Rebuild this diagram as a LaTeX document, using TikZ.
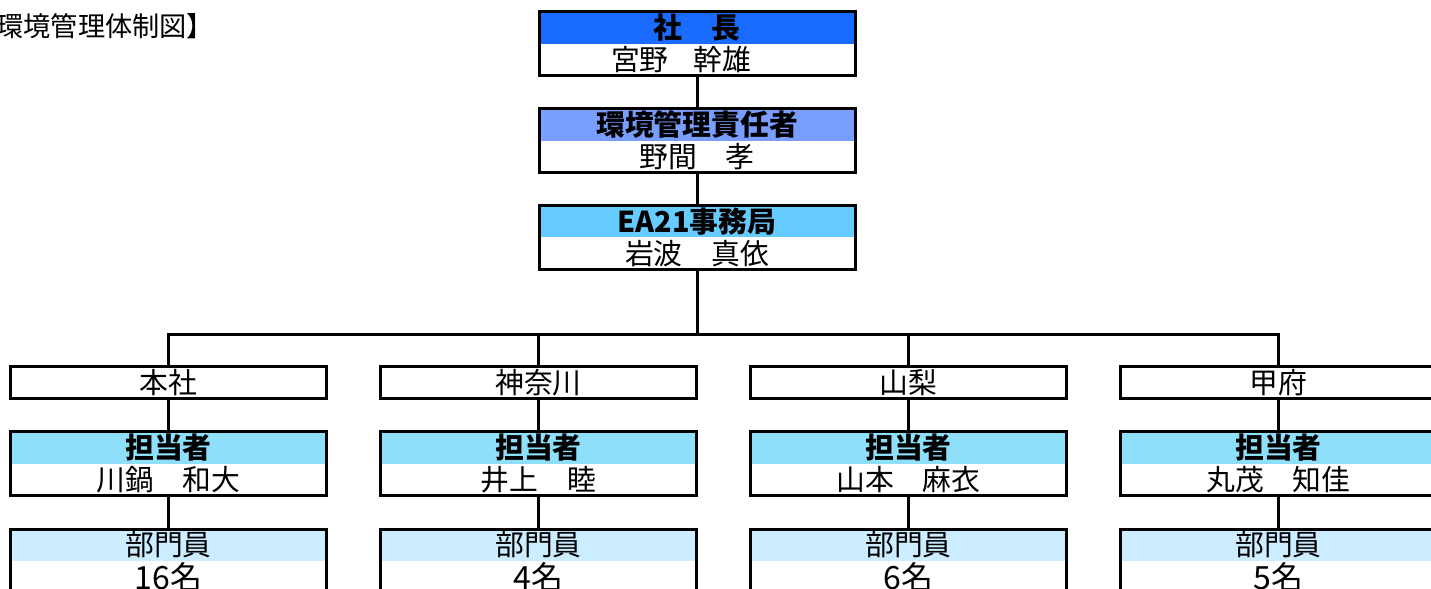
\documentclass[tikz,border=0pt]{standalone}
\usepackage{fontspec}
\setmainfont{Noto Sans CJK JP}
\definecolor{hdA}{RGB}{26,107,255}
\definecolor{hdB}{RGB}{122,158,255}
\definecolor{hdC}{RGB}{102,204,255}
\definecolor{hdD}{RGB}{142,224,250}
\definecolor{hdE}{RGB}{204,236,255}
\tikzset{
  frame/.style={draw=black, line width=1.5pt, inner sep=0pt, minimum width=158pt, fill=white},
  twobox/.style={frame, minimum height=32pt,
    path picture={\fill[#1] (path picture bounding box.north west) rectangle (path picture bounding box.east);}},
  onebox/.style={frame, minimum height=16.25pt},
  hd/.style={font=\fontsize{14.4pt}{16pt}\selectfont\bfseries, inner sep=0pt},
  nm/.style={font=\fontsize{14.4pt}{16pt}\selectfont, inner sep=0pt},
  big/.style={font=\fontsize{16pt}{18pt}\selectfont, inner sep=0pt},
  ttl/.style={font=\fontsize{13.6pt}{15pt}\selectfont, inner sep=0pt, anchor=west},
  conn/.style={draw=black, line width=1.5pt},
}
\begin{document}
\begin{tikzpicture}[x=0.5pt,y=-0.5pt]
\useasboundingbox (0,0) rectangle (1431,589);
\node[ttl] (title) at (-4,26.5) {環境管理体制図】};
% top chain
\node[twobox=hdA] (ceo) at (697,43.6) {};
\node[twobox=hdB] (mgr) at (697,140.5) {};
\node[twobox=hdC] (ofc) at (697,237.3) {};
\node[hd] (ceoh) at ([yshift=8pt]ceo.center) {社　長};
\node[nm] (ceon) at ([xshift=-8pt,yshift=-8pt]ceo.center) {宮野\hspace{0.85em}幹雄};
\node[hd] (mgrh) at ([yshift=8pt]mgr.center) {環境管理責任者};
\node[nm] (mgrn) at ([yshift=-8pt]mgr.center) {野間　孝};
\node[hd] (ofch) at ([yshift=8pt]ofc.center) {EA21事務局};
\node[nm] (ofcn) at ([yshift=-8pt]ofc.center) {岩波　真依};
\draw[conn] (ceo.south) -- (mgr.north);
\draw[conn] (mgr.south) -- (ofc.north);
% branches
\foreach \i/\x/\br/\who/\num in {1/168.5/本社/川鍋　和大/16名, 2/538.5/神奈川/井上　睦/4名, 3/908.5/山梨/山本　麻衣/6名, 4/1278.5/甲府/丸茂　知佳/5名}{
  \node[onebox] (b\i) at (\x,382.7) {};
  \node[nm] (b\i t) at (b\i.center) {\br};
  \node[twobox=hdD] (t\i) at (\x,463.7) {};
  \node[hd] (t\i h) at ([yshift=8pt]t\i.center) {担当者};
  \node[nm] (t\i n) at ([yshift=-8pt]t\i.center) {\who};
  \node[twobox=hdE] (p\i) at (\x,561) {};
  \node[nm] (p\i h) at ([yshift=8pt]p\i.center) {部門員};
  \node[big] (p\i n) at ([yshift=-8.2pt]p\i.center) {\num};
  \draw[conn] (b\i.south) -- (t\i.north);
  \draw[conn] (t\i.south) -- (p\i.north);
}
\coordinate (bus) at (697,334);
\draw[conn] (b1.north) |- (bus) -| (b4.north);
\draw[conn] (ofc.south) -- (bus);
\draw[conn] (b2.north) -- (b2.north |- bus);
\draw[conn] (b3.north) -- (b3.north |- bus);
\end{tikzpicture}
\end{document}
